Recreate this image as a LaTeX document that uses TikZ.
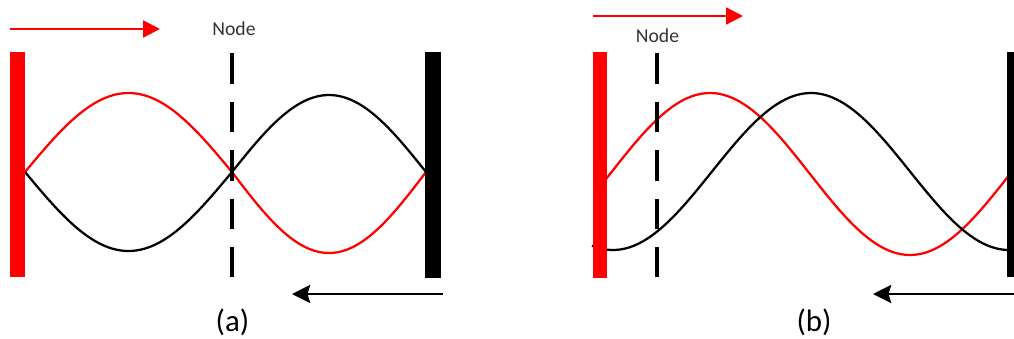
\documentclass[tikz,border=0pt]{standalone}
\usepackage{fontspec}
\setmainfont{Carlito}
\usetikzlibrary{
    arrows.meta,
    positioning
}

\begin{document}
\begin{tikzpicture}[x=0.025cm, y=-0.025cm,
    wavepath/.style={line width=1.6pt},
    nodeline/.style={line width=2.2pt, dash pattern=on 22pt off 12.5pt},
    captiontext/.style={font=\fontsize{22}{26}\selectfont},
    nodetext/.style={font=\fontsize{14}{17}\selectfont, text=black!80},
    fwdarrow/.style={line width=1.6pt, draw=mirrorred, -{Triangle[length=12pt, width=12pt]}},
    bwdarrow/.style={line width=1.6pt, -{Stealth[length=13pt, width=13pt, inset=2pt]}}]
% Define palette
\definecolor{mirrorred}{RGB}{255, 0, 0}

\useasboundingbox (0,0) rectangle (1014,338);

% (a) standing wave, node in the middle
\draw[wavepath, mirrorred] plot[domain=25:232, samples=60] (\x,{172-79*sin((\x-25)/207*180)})
    -- plot[domain=232:426, samples=60] (\x,{172+81*sin((\x-232)/194*180)});
\draw[wavepath] plot[domain=25:232, samples=60] (\x,{172+79*sin((\x-25)/207*180)})
    -- plot[domain=232:426, samples=60] (\x,{172-77*sin((\x-232)/194*180)});

% (b) shifted waves
\draw[wavepath, mirrorred] plot[domain=600:1009, samples=100] (\x,{174-81*sin((\x-610)/400*360)});
\draw[wavepath] plot[domain=592:1008, samples=100] (\x,{171.5+78.5*cos((\x-613)/396*360)});

% mirrors
\fill[mirrorred] (10,52) rectangle (25,277);
\fill[black] (425,52) rectangle (441,278);
\fill[mirrorred] (593,52) rectangle (607,278);
\fill[black] (1007,52) rectangle (1014,277);

% node lines
\coordinate (a-top) at (232,53);
\coordinate (a-bot) at (232,277);
\coordinate (b-top) at (657,53);
\coordinate (b-bot) at (657,277);
\draw[nodeline] (a-top) -- (a-bot);
\draw[nodeline] (b-top) -- (b-bot);

% travelling directions
\coordinate (a-in-start) at (10,29);
\coordinate (a-in-end) at (160,29);
\coordinate (a-out-start) at (443,294);
\coordinate (a-out-end) at (292,294);
\coordinate (b-in-start) at (593,16);
\coordinate (b-in-end) at (743,16);
\coordinate (b-out-start) at (1014,294);
\coordinate (b-out-end) at (873,294);
\draw[fwdarrow] (a-in-start) -- (a-in-end);
\draw[fwdarrow] (b-in-start) -- (b-in-end);
\draw[bwdarrow] (a-out-start) -- (a-out-end);
\draw[bwdarrow] (b-out-start) -- (b-out-end);

% labels
\node[nodetext] (a-node) at (234,28.5) {Node};
\node[nodetext] (b-node) at (657.5,36) {Node};
\node[captiontext] (a-cap) at (232.5,322) {(a)};
\node[captiontext] (b-cap) at (814,322) {(b)};
\end{tikzpicture}
\end{document}
